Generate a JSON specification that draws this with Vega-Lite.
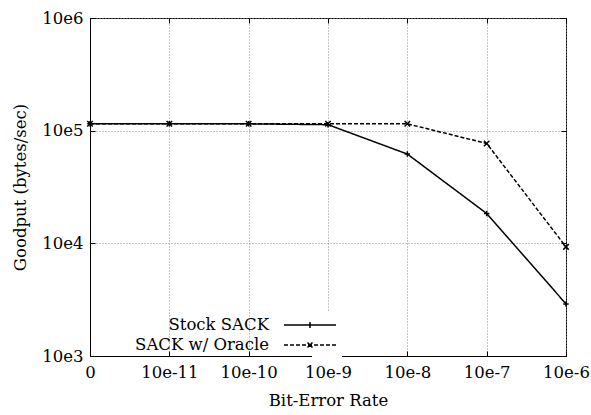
{
  "$schema": "https://vega.github.io/schema/vega-lite/v6.json",
  "width": 476,
  "height": 338,
  "autosize": {"type": "none"},
  "padding": {"left": 90, "top": 18, "right": 25, "bottom": 59},
  "config": {
    "font": "DejaVu Serif",
    "view": {"stroke": "black", "strokeWidth": 1},
    "axis": {
      "labelFont": "DejaVu Serif",
      "titleFont": "DejaVu Serif",
      "labelFontSize": 16.5,
      "titleFontSize": 16.5,
      "titleFontWeight": "normal",
      "labelColor": "black",
      "titleColor": "black",
      "domainColor": "black",
      "tickColor": "black",
      "gridColor": "#888888",
      "gridDash": [1, 2],
      "gridWidth": 1
    },
    "legend": {
      "labelFont": "DejaVu Serif",
      "labelFontSize": 16.5
    }
  },
  "data": {
    "values": [
      {"ber": "0", "series": "Stock SACK", "goodput": 115000},
      {"ber": "10e-11", "series": "Stock SACK", "goodput": 115000},
      {"ber": "10e-10", "series": "Stock SACK", "goodput": 115000},
      {"ber": "10e-9", "series": "Stock SACK", "goodput": 113000},
      {"ber": "10e-8", "series": "Stock SACK", "goodput": 62000},
      {"ber": "10e-7", "series": "Stock SACK", "goodput": 18400},
      {"ber": "10e-6", "series": "Stock SACK", "goodput": 2900},
      {"ber": "0", "series": "SACK w/ Oracle", "goodput": 115000},
      {"ber": "10e-11", "series": "SACK w/ Oracle", "goodput": 115000},
      {"ber": "10e-10", "series": "SACK w/ Oracle", "goodput": 115000},
      {"ber": "10e-9", "series": "SACK w/ Oracle", "goodput": 115000},
      {"ber": "10e-8", "series": "SACK w/ Oracle", "goodput": 115000},
      {"ber": "10e-7", "series": "SACK w/ Oracle", "goodput": 77000},
      {"ber": "10e-6", "series": "SACK w/ Oracle", "goodput": 9300}
    ]
  },
  "resolve": {"axis": {"x": "independent", "y": "independent"}},
  "layer": [
    {
      "mark": {"type": "line", "color": "black", "strokeWidth": 1.5},
      "encoding": {
        "x": {
          "field": "ber", "type": "ordinal",
          "sort": ["0", "10e-11", "10e-10", "10e-9", "10e-8", "10e-7", "10e-6"],
          "scale": {"type": "point", "padding": 0},
          "axis": {"title": "Bit-Error Rate", "labelAngle": 0, "grid": true, "tickSize": -5, "labelPadding": 13, "titlePadding": 12, "domain": true}
        },
        "y": {
          "field": "goodput", "type": "quantitative",
          "scale": {"type": "log", "domain": [1000, 1000000]},
          "axis": {"title": "Goodput (bytes/sec)", "values": [1000, 10000, 100000, 1000000], "labelExpr": "'10e' + round(log(datum.value)/LN10)", "grid": true, "tickSize": -5, "labelPadding": 12, "titlePadding": 13}
        },
        "strokeDash": {
          "field": "series", "type": "nominal",
          "scale": {"domain": ["Stock SACK", "SACK w/ Oracle"], "range": [[1, 0], [4, 2]]},
          "legend": {
            "title": null,
            "orient": "none",
            "legendX": 222,
            "legendY": 293,
            "symbolType": "M-4.2,0L1,0",
            "symbolSize": 400,
            "symbolStrokeWidth": 1.5,
            "symbolStrokeColor": "black",
            "labelAlign": "right",
            "labelOffset": -68,
            "labelColor": "black",
            "rowPadding": 0,
            "fillColor": "white",
            "padding": 3,
            "encode": {
              "symbols": {
                "update": {
                  "shape": {"signal": "datum.value === 'Stock SACK' ? 'M-4.2,0L1,0M-1.6,-0.3L-1.6,0.3' : 'M-4.2,0L1,0M-1.6,0L-1.35,-0.25M-1.6,0L-1.85,0.25M-1.6,0L-1.35,0.25M-1.6,0L-1.85,-0.25'"}
                }
              }
            }
          }
        }
      }
    },
    {
      "transform": [{"filter": "datum.series === 'Stock SACK'"}],
      "mark": {"type": "point", "filled": false, "color": "black", "strokeWidth": 1.5, "size": 30, "opacity": 1, "shape": "M-1,0L1,0M0,-1L0,1"},
      "encoding": {
        "x": {
          "field": "ber", "type": "ordinal",
          "sort": ["0", "10e-11", "10e-10", "10e-9", "10e-8", "10e-7", "10e-6"],
          "scale": {"type": "point", "padding": 0},
          "axis": {"orient": "top", "title": null, "labels": false, "grid": false, "tickSize": -5, "domain": false}
        },
        "y": {
          "field": "goodput", "type": "quantitative",
          "scale": {"type": "log", "domain": [1000, 1000000]},
          "axis": {"orient": "right", "title": null, "labels": false, "grid": false, "values": [1000, 10000, 100000, 1000000], "tickSize": -5, "domain": false}
        }
      }
    },
    {
      "transform": [{"filter": "datum.series === 'SACK w/ Oracle'"}],
      "mark": {"type": "point", "filled": false, "color": "black", "strokeWidth": 1.5, "size": 30, "opacity": 1, "shape": "M-1,-1L1,1M-1,1L1,-1"},
      "encoding": {
        "x": {
          "field": "ber", "type": "ordinal",
          "sort": ["0", "10e-11", "10e-10", "10e-9", "10e-8", "10e-7", "10e-6"],
          "scale": {"type": "point", "padding": 0},
          "axis": null
        },
        "y": {
          "field": "goodput", "type": "quantitative",
          "scale": {"type": "log", "domain": [1000, 1000000]},
          "axis": null
        }
      }
    }
  ]
}
